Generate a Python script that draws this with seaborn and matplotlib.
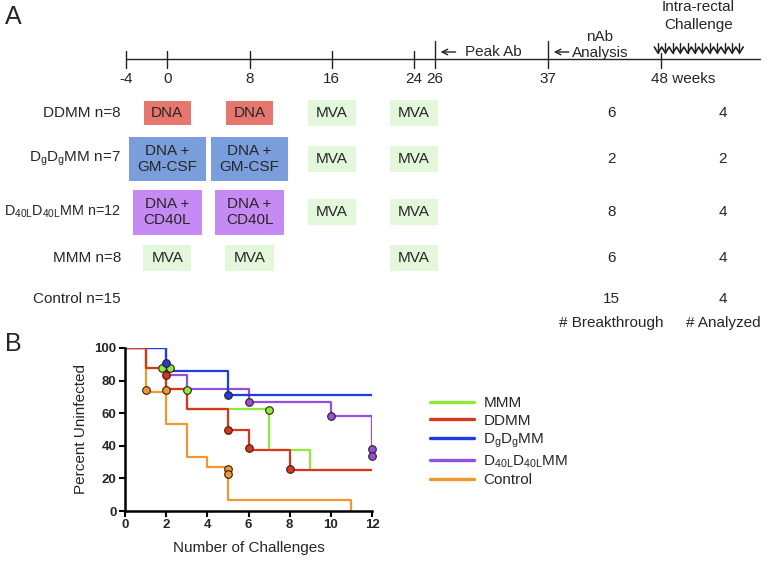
import numpy as np
import pandas as pd
import matplotlib
matplotlib.use('Agg')
from matplotlib import pyplot as plt
from matplotlib.patches import Rectangle
import seaborn as sns

# --- Panel A: schedule ---
tick_weeks = [-4, 0, 8, 16, 24, 26, 37, 48]
row_labels = ['DDMM n=8',
              r'D$_\mathregular{g}$D$_\mathregular{g}$MM n=7',
              r'D$_\mathregular{40L}$D$_\mathregular{40L}$MM n=12',
              'MMM n=8',
              'Control n=15']
ddmm_shots = [(0, 'dna'), (8, 'dna'), (16, 'mva'), (24, 'mva')]
dgdg_shots = [(0, 'gm'), (8, 'gm'), (16, 'mva'), (24, 'mva')]
d40l_shots = [(0, 'cd40l'), (8, 'cd40l'), (16, 'mva'), (24, 'mva')]
mmm_shots = [(0, 'mva'), (8, 'mva'), (24, 'mva')]
control_shots = []
breakthrough = [6, 2, 8, 6, 15]
analyzed = [4, 2, 4, 4, 4]
n_challenges = 12

# --- Panel B: Kaplan-Meier ---
groups = ['MMM', 'DDMM', 'DgDgMM', 'D40LD40LMM', 'Control']
legend_labels = ['MMM', 'DDMM',
                 r'D$_\mathregular{g}$D$_\mathregular{g}$MM',
                 r'D$_\mathregular{40L}$D$_\mathregular{40L}$MM',
                 'Control']
mmm_x = [0, 1, 2, 3, 7, 9, 12]
mmm_y = [100, 87.5, 75, 62.5, 37.5, 25, 25]
ddmm_x = [0, 1, 2, 3, 5, 6, 8, 12]
ddmm_y = [100, 87.5, 75, 62.5, 50, 37.5, 25, 25]
dgdg_x = [0, 2, 5, 12]
dgdg_y = [100, 85.7, 71.4, 71.4]
d40l_x = [0, 2, 3, 6, 10, 12, 12]
d40l_y = [100, 83.3, 75, 66.7, 58.3, 58.3, 34]
ctrl_x = [0, 1, 2, 3, 4, 5, 11]
ctrl_y = [100, 73.3, 53.3, 33.3, 26.7, 6.7, 0]

mmm_cx = [1.8, 2.2, 3, 7]
mmm_cy = [87.5, 87.5, 74.5, 62]
ddmm_cx = [2, 5, 6, 8]
ddmm_cy = [83.5, 49.5, 38.5, 26]
dgdg_cx = [2, 5]
dgdg_cy = [91, 71.3]
d40l_cx = [6, 10, 12, 12]
d40l_cy = [66.7, 58.3, 38, 34]
ctrl_cx = [1, 2, 5, 5]
ctrl_cy = [74, 74, 26, 22.5]

palette = {'MMM': '#8EEB3C', 'DDMM': '#D8361C', 'DgDgMM': '#1E3CE6',
           'D40LD40LMM': '#9150E0', 'Control': '#EE9A2E'}

sns.set_style('ticks')
plt.rcParams['font.family'] = ['Liberation Sans', 'DejaVu Sans']
plt.rcParams['mathtext.default'] = 'regular'

fig = plt.figure(figsize=(7.68, 5.63), dpi=100)

# schedule axes: x in weeks, y in pixel rows
ax0 = fig.add_axes([0, 0, 1, 1])
ax0.set_xlim(-16.25, 58.39)
ax0.set_ylim(563, 0)
ax0.axis('off')

line_y = 59
row_y = [113, 159, 212, 258, 299]
box_style = {
    'dna': ('DNA', '#E5776E', 4.6, 24),
    'gm': ('DNA +\nGM-CSF', '#7A9EDB', 7.5, 44),
    'cd40l': ('DNA +\nCD40L', '#C68AF4', 6.7, 45),
    'mva': ('MVA', '#E3F7DB', 4.7, 26),
}

ax0.plot([-4, 57.6], [line_y, line_y], color='#222222', lw=1)
for w in tick_weeks:
    top = 51 if w <= 24 else (41 if w < 48 else 53)
    ax0.plot([w, w], [top, 68], color='#222222', lw=1)
    if w == 48:
        ax0.text(w - 1.0, 79, '48 weeks', ha='left', va='center', fontsize=11)
    else:
        ax0.text(w, 79, str(w), ha='center', va='center', fontsize=11)

for w in [26, 37]:
    ax0.annotate('', xy=(w + 0.3, 52), xytext=(w + 2.3, 52),
                 arrowprops=dict(arrowstyle='->', color='#222222', lw=1))
ax0.text(28.9, 52, 'Peak Ab', ha='left', va='center', fontsize=11)
ax0.text(42.05, 45, 'nAb\nAnalysis', ha='center', va='center', fontsize=11, linespacing=1.25)
ax0.text(51.6, 16, 'Intra-rectal\nChallenge', ha='center', va='center', fontsize=11, linespacing=1.3)

# challenge squiggle
cw = 47.7 + 0.72 * np.arange(n_challenges)
zx = np.concatenate([[cw[0] - 0.36], np.ravel(np.column_stack([cw, cw + 0.36]))])
zy = np.concatenate([[47], np.ravel(np.column_stack([np.full(n_challenges, 53), np.full(n_challenges, 47)]))])
ax0.plot(zx, zy, color='#222222', lw=1.2)
for c in cw:
    ax0.plot([c, c], [43, 53], color='#222222', lw=1)

schedules = [ddmm_shots, dgdg_shots, d40l_shots, mmm_shots, control_shots]
for y, lab, shots, b, a in zip(row_y, row_labels, schedules, breakthrough, analyzed):
    fs = 10.4 if '40L' in lab else 11
    ax0.text(-4.5, y, lab, ha='right', va='center', fontsize=fs)
    for w, kind in shots:
        txt, col, bw, bh = box_style[kind]
        ax0.add_patch(Rectangle((w - bw / 2, y - bh / 2), bw, bh, facecolor=col, edgecolor='none'))
        ax0.text(w, y, txt, ha='center', va='center', fontsize=11, linespacing=1.2)
    ax0.text(43.2, y, str(b), ha='center', va='center', fontsize=11)
    ax0.text(54.0, y, str(a), ha='center', va='center', fontsize=11)
ax0.text(43.2, 323, '# Breakthrough', ha='center', va='center', fontsize=11)
ax0.text(54.0, 323, '# Analyzed', ha='center', va='center', fontsize=11)

fig.text(0.007, 1 - 17 / 563, 'A', fontsize=18, va='center', ha='left')
fig.text(0.007, 1 - 344 / 563, 'B', fontsize=18, va='center', ha='left')

# survival axes
ax1 = fig.add_axes([125 / 768, 52 / 563, 247 / 768, 163 / 563])
curves = {'MMM': (mmm_x, mmm_y, mmm_cx, mmm_cy),
          'DDMM': (ddmm_x, ddmm_y, ddmm_cx, ddmm_cy),
          'DgDgMM': (dgdg_x, dgdg_y, dgdg_cx, dgdg_cy),
          'D40LD40LMM': (d40l_x, d40l_y, d40l_cx, d40l_cy),
          'Control': (ctrl_x, ctrl_y, ctrl_cx, ctrl_cy)}
draw_order = ['Control', 'MMM', 'D40LD40LMM', 'DgDgMM', 'DDMM']
handles = {}
for g in draw_order:
    x, y, cx, cy = curves[g]
    df = pd.DataFrame({'x': x, 'y': y})
    sns.lineplot(data=df, x='x', y='y', ax=ax1, color=palette[g], lw=1.6,
                 drawstyle='steps-post', estimator=None, sort=False, label=g)
    handles[g] = ax1.get_lines()[-1]
for g in draw_order:
    x, y, cx, cy = curves[g]
    cdf = pd.DataFrame({'x': cx, 'y': cy})
    sns.scatterplot(data=cdf, x='x', y='y', ax=ax1, color=palette[g], s=30,
                    edgecolor='#3a1a10', linewidth=0.8, zorder=5, legend=False, clip_on=False)

ax1.set_xlim(0, 12)
ax1.set_ylim(0, 100)
ax1.set_xticks(range(0, 13, 2))
ax1.set_yticks(range(0, 101, 20))
for lbl in ax1.get_xticklabels() + ax1.get_yticklabels():
    lbl.set_fontweight('bold')
    lbl.set_fontsize(9.5)
ax1.tick_params(width=1.5, length=4, pad=2, color='black')
for s in ['left', 'bottom']:
    ax1.spines[s].set_linewidth(1.8)
    ax1.spines[s].set_color('black')
sns.despine(ax=ax1)
ax1.set_xlabel('Number of Challenges', fontsize=11, labelpad=7)
ax1.set_ylabel('Percent Uninfected', fontsize=11, labelpad=5)

leg = ax1.legend([handles[g] for g in groups], legend_labels, loc='upper left',
                 bbox_to_anchor=(430 / 768, 1 - 396 / 563), bbox_transform=fig.transFigure,
                 frameon=False, fontsize=11, handlelength=2.9, handletextpad=0.6,
                 labelspacing=0.24, borderpad=0, borderaxespad=0)
for ln in leg.get_lines():
    ln.set_linewidth(2.4)

fig.savefig('out.png', dpi=100)
